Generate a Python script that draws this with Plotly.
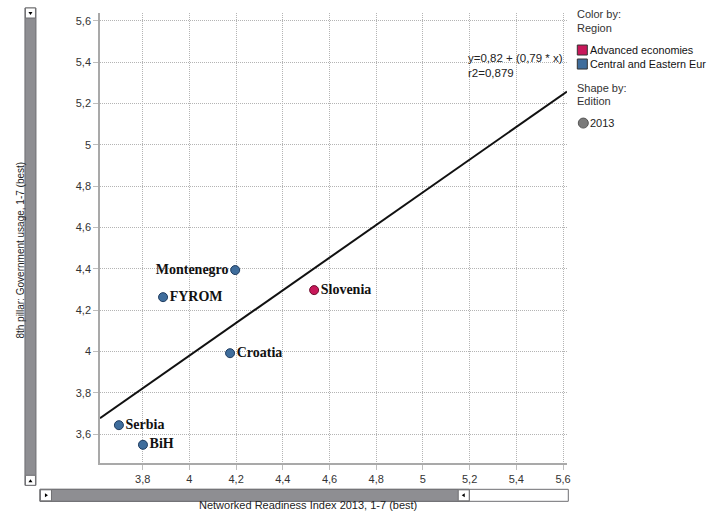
import plotly.graph_objects as go

# ---------------- data ----------------
countries = ["Montenegro", "FYROM", "Slovenia", "Croatia", "Serbia", "BiH"]
nri_2013 = [4.196, 3.887, 4.534, 4.174, 3.698, 3.801]
gov_usage = [4.394, 4.263, 4.297, 3.992, 3.644, 3.549]
regions = ["Central and Eastern Eur", "Central and Eastern Eur", "Advanced economies",
           "Central and Eastern Eur", "Central and Eastern Eur", "Central and Eastern Eur"]
label_side = ["left", "right", "right", "right", "right", "right"]

fit_intercept = 0.82
fit_slope = 0.79
fit_r2 = 0.879

x_ticks = [3.8, 4.0, 4.2, 4.4, 4.6, 4.8, 5.0, 5.2, 5.4, 5.6]
x_ticklabels = ["3,8", "4", "4,2", "4,4", "4,6", "4,8", "5", "5,2", "5,4", "5,6"]
y_ticks = [3.6, 3.8, 4.0, 4.2, 4.4, 4.6, 4.8, 5.0, 5.2, 5.4, 5.6]
y_ticklabels = ["3,6", "3,8", "4", "4,2", "4,4", "4,6", "4,8", "5", "5,2", "5,4", "5,6"]

region_colors = {"Advanced economies": "#c8185a", "Central and Eastern Eur": "#3f6d9c"}
region_lines = {"Advanced economies": "#6e0d2e", "Central and Eastern Eur": "#1f3c60"}
legend_regions = ["Advanced economies", "Central and Eastern Eur"]
edition = "2013"

x_range = [3.617, 5.617]
y_range = [3.461, 5.637]

# ---------------- layout geometry (pixels) ----------------
W, H = 707, 521
L, R, T, B = 100, 566.7, 13, 462.7


def px(x):
    return (x - L) / (R - L)


def py(y):
    return (B - y) / (B - T)


FONT = "Liberation Sans, Arial, sans-serif"
SERIF = "Liberation Serif, Times New Roman, serif"

fig = go.Figure()

# regression line
fig.add_trace(go.Scatter(
    x=x_range, y=[fit_intercept + fit_slope * v for v in x_range],
    mode="lines", line=dict(color="#111111", width=2), hoverinfo="skip", showlegend=False))

# points
for side in ["left", "right"]:
    idx = [i for i in range(len(countries)) if label_side[i] == side]
    fig.add_trace(go.Scatter(
        x=[nri_2013[i] for i in idx], y=[gov_usage[i] for i in idx],
        text=[countries[i] for i in idx],
        mode="markers+text",
        textposition="middle " + side,
        textfont=dict(family=SERIF, size=14, color="#111111", weight="bold"),
        marker=dict(size=9, color=[region_colors[regions[i]] for i in idx],
                    line=dict(color=[region_lines[regions[i]] for i in idx], width=1)),
        showlegend=False, cliponaxis=False))

shapes = []
annotations = []

# equation annotation
annotations.append(dict(
    x=px(466), y=py(50), xref="paper", yref="paper", xanchor="left", yanchor="top",
    text=f"y={str(fit_intercept).replace('.', ',')} + ({str(fit_slope).replace('.', ',')} * x)<br>"
         f"r2={str(fit_r2).replace('.', ',')}",
    showarrow=False, align="left", font=dict(family=FONT, size=11.5, color="#222222")))

# axis titles
annotations.append(dict(
    x=px(13), y=py(250), xref="paper", yref="paper", textangle=-90,
    text="8th pillar: Government usage, 1-7 (best)", showarrow=False,
    font=dict(family=FONT, size=10, color="#222222")))
annotations.append(dict(
    x=px(308), y=py(513), xref="paper", yref="paper",
    text="Networked Readiness Index 2013, 1-7 (best)", showarrow=False,
    font=dict(family=FONT, size=11, color="#222222")))

# legend (manual)
lx = 575
for txt, yy in [("Color by:", 14), ("Region", 28), ("Shape by:", 88), ("Edition", 101)]:
    annotations.append(dict(x=px(lx), y=py(yy), xref="paper", yref="paper", xanchor="left",
                            yanchor="middle", text=txt, showarrow=False,
                            font=dict(family=FONT, size=11, color="#333333")))
for reg, yy in zip(legend_regions, [50, 64]):
    shapes.append(dict(type="rect", xref="paper", yref="paper",
                       x0=px(577), x1=px(587), y0=py(yy + 5), y1=py(yy - 5),
                       fillcolor=region_colors[reg], line=dict(color="#333333", width=1)))
    annotations.append(dict(x=px(588), y=py(yy), xref="paper", yref="paper", xanchor="left",
                            yanchor="middle", text=reg, showarrow=False,
                            font=dict(family=FONT, size=10.8, color="#111111")))
shapes.append(dict(type="circle", xref="paper", yref="paper",
                   x0=px(578), x1=px(588), y0=py(128), y1=py(118),
                   fillcolor="#7a7a7a", line=dict(color="#555555", width=1)))
annotations.append(dict(x=px(588), y=py(123), xref="paper", yref="paper", xanchor="left",
                        yanchor="middle", text=edition, showarrow=False,
                        font=dict(family=FONT, size=11, color="#222222")))

# vertical scrollbar
GRAY = "#8e8e92"
EDGE = "#6f6f72"
shapes.append(dict(type="rect", xref="paper", yref="paper", x0=px(25), x1=px(36),
                   y0=py(485), y1=py(8), fillcolor=GRAY, line=dict(color=EDGE, width=1)))
for y0, y1 in [(8, 18), (475, 485)]:
    shapes.append(dict(type="rect", xref="paper", yref="paper", x0=px(25.5), x1=px(35.5),
                       y0=py(y1), y1=py(y0), fillcolor="#ffffff", line=dict(color=EDGE, width=1)))
shapes.append(dict(type="path", xref="paper", yref="paper",
                   path=f"M {px(28.5)},{py(12)} L {px(32.5)},{py(12)} L {px(30.5)},{py(15)} Z",
                   fillcolor="#000000", line=dict(width=0)))
shapes.append(dict(type="path", xref="paper", yref="paper",
                   path=f"M {px(28.5)},{py(482)} L {px(32.5)},{py(482)} L {px(30.5)},{py(479)} Z",
                   fillcolor="#000000", line=dict(width=0)))

# horizontal scrollbar
shapes.append(dict(type="rect", xref="paper", yref="paper", x0=px(40), x1=px(568),
                   y0=py(501), y1=py(489), fillcolor="#ffffff", line=dict(color=EDGE, width=1)))
shapes.append(dict(type="rect", xref="paper", yref="paper", x0=px(40), x1=px(469),
                   y0=py(501), y1=py(489), fillcolor=GRAY, line=dict(color=EDGE, width=1)))
for x0, x1 in [(40.5, 51.5), (458, 469)]:
    shapes.append(dict(type="rect", xref="paper", yref="paper", x0=px(x0), x1=px(x1),
                       y0=py(500.5), y1=py(489.5), fillcolor="#ffffff", line=dict(color=EDGE, width=1)))
shapes.append(dict(type="path", xref="paper", yref="paper",
                   path=f"M {px(45)},{py(493)} L {px(45)},{py(497)} L {px(48)},{py(495)} Z",
                   fillcolor="#000000", line=dict(width=0)))
shapes.append(dict(type="path", xref="paper", yref="paper",
                   path=f"M {px(464.5)},{py(493)} L {px(464.5)},{py(497)} L {px(461.5)},{py(495)} Z",
                   fillcolor="#000000", line=dict(width=0)))

axis_common = dict(
    showgrid=True, gridcolor="#b4b4b4", griddash="1px,1px", gridwidth=1,
    zeroline=False, showline=True, linecolor="#a9a9a9", linewidth=1.5,
    ticks="outside", ticklen=5, tickcolor="#bdbdbd",
    tickfont=dict(family=FONT, size=11, color="#333333"),
)

fig.update_layout(
    width=W, height=H,
    margin=dict(l=L, r=W - R, t=T, b=H - B, pad=0),
    paper_bgcolor="#ffffff", plot_bgcolor="#ffffff",
    showlegend=False,
    xaxis=dict(range=x_range, tickvals=x_ticks, ticktext=x_ticklabels, **axis_common),
    yaxis=dict(range=y_range, tickvals=y_ticks, ticktext=y_ticklabels, **axis_common),
    shapes=shapes, annotations=annotations,
)

fig.write_html("out.html", config={"displayModeBar": False},
               post_script="document.body.style.margin='0px';document.body.style.padding='0px';")
